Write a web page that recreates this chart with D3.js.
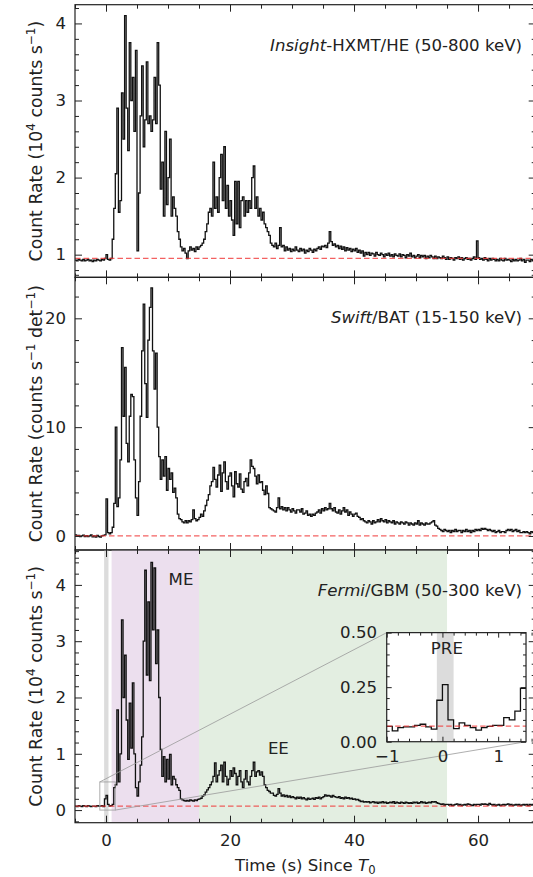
<!DOCTYPE html>
<html>
<head>
<meta charset="utf-8">
<script src="https://cdn.jsdelivr.net/npm/d3@7/dist/d3.min.js"></script>
<style>
	body { margin: 0; background: #fff; }
	svg { display: block; font-family: "DejaVu Sans", sans-serif; }
	.tick line { stroke: #222; stroke-width: 1; }
	.tick text { font-size: 16.6px; fill: #222; font-family: "DejaVu Sans", sans-serif; }
	.domain { display: none; }
</style>
</head>
<body>
<div id="chart"></div>
<script>

// binned light curves: first bin start (s) and bin width (s)
const binStart = -5;
const binWidth = 0.25;

// Insight-HXMT/HE, 10^4 counts/s (one row = one second)
const hxmtRate = [
	.93,.92,.94,.93, .92,.94,.92,.93, .94,.92,.93,.91, .93,.92,.94,.93, .92,.94,.93,.95,
	1.0,.94,.93,.95, 1.2,1.6,2.05,2.9, 1.55,1.7,3.1,2.5, 4.1,2.9,2.35,3.75, 3.0,3.3,2.6,3.65,
	1.05,1.8,2.8,3.45, 2.4,2.75,3.5,2.7, 2.8,2.6,2.75,3.3, 2.7,3.75,3.2,1.85, 2.2,1.5,2.6,1.65,
	2.0,2.5,1.5,1.75, 1.6,1.5,1.3,1.2, 1.1,1.05,1.08,1.02, .95,1.05,1.1,1.06, 1.08,1.04,1.1,1.07,
	1.1,1.12,1.15,1.2, 1.3,1.4,1.55,1.6, 1.5,2.2,1.6,1.75, 1.55,2.0,2.3,1.7, 2.4,1.6,1.9,1.5,
	1.7,1.45,1.25,1.95, 1.4,1.95,1.35,1.7, 1.75,1.5,1.7,1.55, 1.7,1.6,2.0,2.15, 1.6,1.75,1.5,1.6,
	1.45,1.55,1.4,1.35, 1.3,1.25,1.15,1.12, 1.1,1.15,1.08,1.12, 1.35,1.1,1.12,1.05, 1.1,1.06,1.08,1.04,
	1.07,1.05,1.1,1.06, 1.04,1.08,1.05,1.07, 1.02,1.06,1.04,1.08, 1.06,1.03,1.07,1.05, 1.08,1.1,1.07,1.11,
	1.1,1.12,1.09,1.15, 1.3,1.17,1.12,1.14, 1.1,1.12,1.08,1.11, 1.07,1.1,1.05,1.09, 1.06,1.08,1.04,1.07,
	1.05,1.08,1.03,1.06, 1.02,1.05,.98,1.03, 1.0,1.03,.99,1.02, 1.01,.98,1.03,1.0, .99,1.02,1.0,.97,
	1.01,.99,1.02,.98, 1.0,.97,1.01,.99, .98,1.01,.97,1.0, .99,.96,1.0,.98, 1.02,.97,.99,.96,
	.98,1.0,.96,.99, .97,.99,.95,.98, .96,.99,.97,.95, .98,.95,.97,.96, .95,.98,.96,.94,
	.97,.94,.96,.95, .93,.96,.95,.97, .94,.96,.93,.95, .96,.94,.95,.93, .95,.97,.94,1.18,
	.96,.94,.95,.93, .96,.94,.92,.95, .93,.95,.94,.92, .94,.92,.95,.93, .92,.95,.93,.94,
	.93,.91,.94,.92, .94,.92,.93,.95, .92,.94,.90,.93, .93,.91,.94,.92
];

// Swift/BAT, counts/s/det
const batRate = [
	.1,0,.05,-.05, 0,.08,-.05,.02, -.05,0,.1,-.08, 0,-.1,.05,-.05, -.1,0,.05,.1,
	3.4,.3,.2,.3, .8,3.0,10.0,2.7, 3.5,7.0,17.3,11.0, 15.5,8.5,6.8,11.0, 13.0,12.8,7.0,3.5,
	1.9,5.0,11.0,17.0, 21.3,14.0,10.9,18.0, 21.0,22.8,17.0,13.5, 16.8,10.0,7.3,5.2, 7.0,5.5,7.3,4.2,
	6.2,5.2,5.8,4.0, 4.4,3.5,2.0,1.6, 1.5,1.3,1.2,1.4, 1.2,1.4,1.3,1.5, 2.4,1.6,1.4,1.5,
	1.7,2.0,1.8,2.3, 2.8,3.3,3.8,4.6, 5.0,6.3,5.2,4.5, 5.6,6.5,4.1,5.8, 6.8,5.0,4.3,5.5,
	5.8,4.6,3.6,5.9, 4.8,4.5,5.7,4.3, 4.0,5.0,5.3,4.6, 5.8,7.0,6.4,6.2, 5.5,4.8,5.6,4.9,
	5.0,4.2,3.8,4.6, 3.9,2.6,2.5,2.4, 2.3,2.2,2.6,3.5, 2.5,2.7,2.4,2.6, 2.3,2.6,2.4,2.2,
	2.5,2.3,2.1,2.4, 2.4,2.2,2.5,2.0, 2.1,2.3,1.9,2.0, 1.8,2.0,1.9,2.1, 2.2,2.4,2.1,2.5,
	2.3,2.6,2.4,2.5, 3.0,2.5,2.3,2.6, 2.2,2.1,2.4,2.0, 2.3,2.6,2.2,2.4, 1.9,2.2,2.0,1.8,
	2.0,2.1,1.8,1.7, 1.5,1.6,1.4,1.3, 1.2,1.4,1.3,1.1, 1.4,1.2,1.3,1.5, 1.3,1.6,1.4,1.3,
	1.5,1.2,1.4,1.3, 1.2,1.4,1.1,1.3, 1.2,1.1,1.3,1.2, 1.1,1.3,1.2,1.0, 1.2,1.1,1.0,1.2,
	1.1,1.4,1.0,1.2, 1.1,1.0,1.2,1.1, 1.1,1.2,1.3,1.4, 1.0,.9,.7,.6, .5,.4,.6,.5,
	.4,.5,.3,.5, .4,.6,.4,.5, .5,.3,.5,.4, .6,.4,.5,.3, .5,.4,.6,.5,
	.6,.5,.7,.6, .7,.6,.5,.6, .5,.4,.5,.3, .4,.5,.3,.4, .4,.3,.5,.6,
	.5,.6,.4,.5, .6,.4,.5,.3, .3,.4,.3,.4, .3,.2,.4,.3
];

// Fermi/GBM, 10^4 counts/s
const gbmRate = [
	.07,.06,.08,.07, .06,.08,.07,.06, .08,.07,.06,.07, .07,.06,.08,.07, .07,.08,.06,.2,
	.26,.1,.07,.08, .1,.4,.45,1.78, .5,1.0,3.38,2.0, 2.75,1.6,.9,1.9, 1.1,2.26,1.0,.4,
	.25,.5,.8,1.3, 3.0,4.26,2.4,3.7, 2.3,4.4,3.2,4.3, 2.6,3.2,2.0,1.08, .6,.95,.5,.9,
	.55,.99,.45,.6, .55,.45,.4,.35, .2,.18,.17,.16, .17,.16,.18,.17, .16,.18,.17,.19,
	.2,.21,.25,.27, .32,.36,.4,.45, .5,.6,.84,.5, .62,.7,.8,.5, .85,.6,.45,.55,
	.7,.6,.75,.65, .45,.6,.7,.5, .4,.55,.7,.5, .45,.6,.7,.85, .6,.68,.7,.62,
	.68,.6,.45,.4, .35,.33,.3,.3, .26,.25,.28,.38, .3,.25,.27,.24, .26,.23,.25,.22,
	.24,.22,.2,.23, .21,.23,.2,.22, .2,.18,.21,.19, .2,.21,.19,.22, .21,.23,.2,.22,
	.24,.27,.25,.26, .25,.23,.26,.24, .23,.22,.24,.21, .22,.2,.23,.21, .22,.2,.21,.19,
	.2,.18,.19,.17, .15,.16,.14,.15, .14,.15,.13,.14, .15,.13,.14,.12, .14,.13,.15,.13,
	.14,.12,.13,.14, .13,.15,.12,.14, .13,.12,.14,.13, .12,.14,.13,.12, .13,.12,.14,.13,
	.14,.12,.13,.15, .13,.14,.12,.13, .14,.13,.15,.14, .15,.13,.12,.11, .1,.11,.09,.1,
	.1,.09,.1,.08, .09,.1,.11,.09, .1,.08,.09,.1, .09,.11,.1,.09, .08,.1,.09,.1,
	.1,.09,.11,.1, .11,.1,.09,.12, .1,.09,.1,.08, .09,.1,.08,.09, .1,.09,.1,.11,
	.09,.1,.08,.09, .1,.09,.1,.08, .09,.1,.09,.1, .08,.1,.09,.1
];

// Fermi/GBM zoom around the precursor, 0.1 s bins from -1 s
const zoomStart = -1;
const zoomBinWidth = 0.1;
const gbmZoomRate = [
	.07,.05,.065,.068,.068,.075,.08,.068,.058,.19,
	.262,.10,.06,.086,.075,.065,.053,.065,.07,.075,
	.075,.11,.10,.14,.245
];

// background levels (HXMT, BAT, GBM)
const bkgLevels = [0.952, 0, 0.071];

// episodes (s)
const preWindow = [-0.1, 0.2];
const meWindow = [0.9, 15];
const eeWindow = [15, 55];

// ticks
const xTicks = [0, 20, 40, 60];
const hxmtTicks = [1, 2, 3, 4];
const batTicks = [0, 10, 20];
const gbmTicks = [0, 1, 2, 3, 4];
const zoomXTicks = [-1, 0, 1];
const zoomYTicks = [0, 0.25, 0.5];


/* layout */
const W = 533, H = 877;
const frameLeft = 75, frameRight = 535.7;
const panelHeight = 272.7;
const xDomain = [-5, 69.3];
const majorLen = 7, minorLen = 4;
const fontSize = 16.6;

const svg = d3.select("#chart").append("svg")
	.attr("width", W)
	.attr("height", H);

function toSeries(values, start, width) {
	let pts = values.map((v, i) => [start + i * width, v]);
	pts.push([start + values.length * width, values[values.length - 1]]);
	return pts;
}

// text with italic / super / subscript pieces
function richText(sel, parts) {
	parts.forEach(p => {
		let ts = sel.append("tspan").text(p.t);
		if (p.it) ts.attr("font-style", "italic");
		if (p.sup) ts.attr("dy", -7).attr("font-size", "70%");
		if (p.sub) ts.attr("dy", 3.5).attr("font-size", "70%");
		if (p.back) ts.attr("dy", p.back);
	});
	return sel;
}

// inward ticks on all four sides of a frame
function frameTicks(g, x, y, w, h, o) {
	let fmtX = o.xFormat || (() => "");
	let fmtY = o.yFormat || (() => "");

	g.append("g").attr("transform", `translate(0,${h})`)
		.call(d3.axisBottom(x).tickValues(o.xMajor).tickSize(-o.major).tickSizeOuter(0).tickPadding(o.xPad).tickFormat(fmtX));
	g.append("g").attr("transform", `translate(0,${h})`)
		.call(d3.axisBottom(x).tickValues(o.xMinor).tickSize(-o.minor).tickSizeOuter(0).tickFormat(""));
	g.append("g")
		.call(d3.axisTop(x).tickValues(o.xMajor).tickSize(-o.major).tickSizeOuter(0).tickFormat(""));
	g.append("g")
		.call(d3.axisTop(x).tickValues(o.xMinor).tickSize(-o.minor).tickSizeOuter(0).tickFormat(""));

	g.append("g")
		.call(d3.axisLeft(y).tickValues(o.yMajor).tickSize(-o.major).tickSizeOuter(0).tickPadding(o.yPad).tickFormat(fmtY));
	g.append("g")
		.call(d3.axisLeft(y).tickValues(o.yMinor).tickSize(-o.minor).tickSizeOuter(0).tickFormat(""));
	g.append("g").attr("transform", `translate(${w},0)`)
		.call(d3.axisRight(y).tickValues(o.yMajor).tickSize(-o.major).tickSizeOuter(0).tickFormat(""));
	g.append("g").attr("transform", `translate(${w},0)`)
		.call(d3.axisRight(y).tickValues(o.yMinor).tickSize(-o.minor).tickSizeOuter(0).tickFormat(""));

	g.selectAll("g").attr("font-family", null).attr("font-size", null);

	g.append("rect")
		.attr("width", w)
		.attr("height", h)
		.attr("fill", "none")
		.attr("stroke", "#222")
		.attr("stroke-width", 1.2);
}

function minorTicks(lo, hi, step, major) {
	return d3.range(Math.round(lo / step), Math.round(hi / step) + 1)
		.map(k => +(k * step).toFixed(4))
		.filter(v => !major.includes(v));
}


class LightCurve {

	constructor(svg, config) {
		this.svg = svg;
		this.config = config;
		this.initVis();
	}

	initVis() {
		let vis = this;
		let c = vis.config;

		vis.width = frameRight - frameLeft;
		vis.height = panelHeight;

		vis.g = vis.svg.append("g")
			.attr("transform", `translate(${frameLeft},${c.top})`);

		vis.x = d3.scaleLinear().domain(xDomain).range([0, vis.width]);
		vis.y = d3.scaleLinear().domain(c.yDomain).range([vis.height, 0]);

		vis.g.append("clipPath").attr("id", "clip-" + c.id)
			.append("rect").attr("width", vis.width).attr("height", vis.height);

		vis.plot = vis.g.append("g").attr("clip-path", `url(#clip-${c.id})`);

		// shaded episodes
		(c.spans || []).forEach(s => {
			vis.plot.append("rect")
				.attr("x", vis.x(s.range[0]))
				.attr("width", vis.x(s.range[1]) - vis.x(s.range[0]))
				.attr("y", 0)
				.attr("height", vis.height)
				.attr("fill", s.fill)
				.attr("stroke", s.edge ? s.fill : "none")
				.attr("stroke-width", s.edge || 0);
		});

		vis.line = d3.line()
			.x(d => vis.x(d[0]))
			.y(d => vis.y(d[1]))
			.curve(d3.curveStepAfter);

		vis.plot.append("path")
			.datum(toSeries(c.values, binStart, binWidth))
			.attr("fill", "none")
			.attr("stroke", "#111")
			.attr("stroke-width", 1.3)
			.attr("stroke-linejoin", "miter")
			.attr("d", vis.line);

		vis.plot.append("line")
			.attr("x1", 0).attr("x2", vis.width)
			.attr("y1", vis.y(c.bkg)).attr("y2", vis.y(c.bkg))
			.attr("stroke", "#f03a3a")
			.attr("stroke-opacity", 0.8)
			.attr("stroke-width", 1.3)
			.attr("stroke-dasharray", "5.5,3");

		frameTicks(vis.g, vis.x, vis.y, vis.width, vis.height, {
			major: majorLen, minor: minorLen,
			xMajor: xTicks, xMinor: minorTicks(-5, 69, 5, xTicks),
			yMajor: c.yTicks, yMinor: minorTicks(c.yDomain[0], c.yDomain[1], c.yMinorStep, c.yTicks),
			xPad: 11.4, yPad: 9,
			xFormat: c.showX ? d3.format("d") : null,
			yFormat: d3.format("d")
		});

		// instrument label
		richText(vis.g.append("text")
			.attr("x", 522 - frameLeft)
			.attr("y", 46)
			.attr("text-anchor", "end")
			.attr("font-size", fontSize)
			.attr("fill", "#222"), c.title);

		// y label
		richText(vis.svg.append("text")
			.attr("transform", `translate(41.5,${c.top + vis.height / 2}) rotate(-90)`)
			.attr("text-anchor", "middle")
			.attr("font-size", 17.3)
			.attr("fill", "#222"), c.ylabel);
	}
}


let hxmtPanel = new LightCurve(svg, {
	id: "hxmt", top: 4.7, values: hxmtRate, bkg: bkgLevels[0],
	yDomain: [0.705, 4.243], yTicks: hxmtTicks, yMinorStep: 0.2,
	title: [{t: "Insight", it: true}, {t: "-HXMT/HE (50-800 keV)"}],
	ylabel: [{t: "Count Rate (10"}, {t: "4", sup: true}, {t: " counts s", back: 7}, {t: "\u22121", sup: true}, {t: ")", back: 7}]
});

let batPanel = new LightCurve(svg, {
	id: "bat", top: 277.3, values: batRate, bkg: bkgLevels[1],
	yDomain: [-1.29, 23.77], yTicks: batTicks, yMinorStep: 2,
	title: [{t: "Swift", it: true}, {t: "/BAT (15-150 keV)"}],
	ylabel: [{t: "Count Rate (counts s"}, {t: "\u22121", sup: true}, {t: " det", back: 7}, {t: "\u22121", sup: true}, {t: ")", back: 7}]
});

let gbmPanel = new LightCurve(svg, {
	id: "gbm", top: 550, values: gbmRate, bkg: bkgLevels[2],
	yDomain: [-0.224, 4.62], yTicks: gbmTicks, yMinorStep: 0.2, showX: true,
	spans: [
		{range: meWindow, fill: "#ecdfee"},
		{range: eeWindow, fill: "#e3eee1"},
		{range: preWindow, fill: "#dcdcdc", edge: 2.5}
	],
	title: [{t: "Fermi", it: true}, {t: "/GBM (50-300 keV)"}],
	ylabel: [{t: "Count Rate (10"}, {t: "4", sup: true}, {t: " counts s", back: 7}, {t: "\u22121", sup: true}, {t: ")", back: 7}]
});

// episode labels
gbmPanel.g.append("text")
	.attr("x", gbmPanel.x(12.1)).attr("y", gbmPanel.y(4.0))
	.attr("text-anchor", "middle").attr("font-size", fontSize).attr("fill", "#222")
	.text("ME");
gbmPanel.g.append("text")
	.attr("x", gbmPanel.x(27.8)).attr("y", gbmPanel.y(0.99))
	.attr("text-anchor", "middle").attr("font-size", fontSize).attr("fill", "#222")
	.text("EE");

// x label
richText(svg.append("text")
	.attr("x", (frameLeft + frameRight) / 2)
	.attr("y", 870.5)
	.attr("text-anchor", "middle")
	.attr("font-size", fontSize)
	.attr("fill", "#222"), [{t: "Time (s) Since "}, {t: "T", it: true}, {t: "0", sub: true}]);


/* zoom inset on the precursor */
let zx = d3.scaleLinear().domain([-1, 1.5]);
let zy = d3.scaleLinear().domain([0, 0.5]);

let inset = {
	x: 0.6766 * gbmPanel.width,
	y: 0.303 * gbmPanel.height,
	w: 0.3024 * gbmPanel.width,
	h: 0.4 * gbmPanel.height
};
zx.range([0, inset.w]);
zy.range([inset.h, 0]);

// indicator box and connectors in the main panel
let bx0 = gbmPanel.x(zx.domain()[0]), bx1 = gbmPanel.x(zx.domain()[1]);
let by0 = gbmPanel.y(zy.domain()[1]), by1 = gbmPanel.y(zy.domain()[0]);

gbmPanel.g.append("rect")
	.attr("x", bx0).attr("y", by0)
	.attr("width", bx1 - bx0).attr("height", by1 - by0)
	.attr("fill", "none").attr("stroke", "#9a9a9a").attr("stroke-width", 1).attr("stroke-opacity", 0.8);

gbmPanel.g.append("line")
	.attr("x1", bx0).attr("y1", by0).attr("x2", inset.x).attr("y2", inset.y)
	.attr("stroke", "#9a9a9a").attr("stroke-width", 1).attr("stroke-opacity", 0.8);
gbmPanel.g.append("line")
	.attr("x1", bx1).attr("y1", by1).attr("x2", inset.x + inset.w).attr("y2", inset.y + inset.h)
	.attr("stroke", "#9a9a9a").attr("stroke-width", 1).attr("stroke-opacity", 0.8);

let ig = gbmPanel.g.append("g")
	.attr("transform", `translate(${inset.x},${inset.y})`);

ig.append("rect").attr("width", inset.w).attr("height", inset.h).attr("fill", "#fff");

ig.append("clipPath").attr("id", "clip-inset")
	.append("rect").attr("width", inset.w).attr("height", inset.h);
let iplot = ig.append("g").attr("clip-path", "url(#clip-inset)");

iplot.append("rect")
	.attr("x", zx(preWindow[0])).attr("width", zx(preWindow[1]) - zx(preWindow[0]))
	.attr("y", 0).attr("height", inset.h)
	.attr("fill", "#dcdcdc");

iplot.append("path")
	.datum(toSeries(gbmZoomRate, zoomStart, zoomBinWidth))
	.attr("fill", "none")
	.attr("stroke", "#111")
	.attr("stroke-width", 1.3)
	.attr("d", d3.line().x(d => zx(d[0])).y(d => zy(d[1])).curve(d3.curveStepAfter));

iplot.append("line")
	.attr("x1", 0).attr("x2", inset.w)
	.attr("y1", zy(bkgLevels[2])).attr("y2", zy(bkgLevels[2]))
	.attr("stroke", "#f03a3a").attr("stroke-opacity", 0.8)
	.attr("stroke-width", 1.3).attr("stroke-dasharray", "5.5,3");

frameTicks(ig, zx, zy, inset.w, inset.h, {
	major: 5, minor: 3,
	xMajor: zoomXTicks, xMinor: minorTicks(-1, 1.5, 0.2, zoomXTicks),
	yMajor: zoomYTicks, yMinor: minorTicks(0, 0.5, 0.05, zoomYTicks),
	xPad: 8.9, yPad: 9.7,
	xFormat: d => d < 0 ? "\u2212" + Math.abs(d) : d,
	yFormat: d3.format(".2f")
});

ig.append("text")
	.attr("x", zx(0.08)).attr("y", zy(0.4))
	.attr("text-anchor", "middle").attr("font-size", fontSize).attr("fill", "#222")
	.text("PRE");

</script>
</body>
</html>
